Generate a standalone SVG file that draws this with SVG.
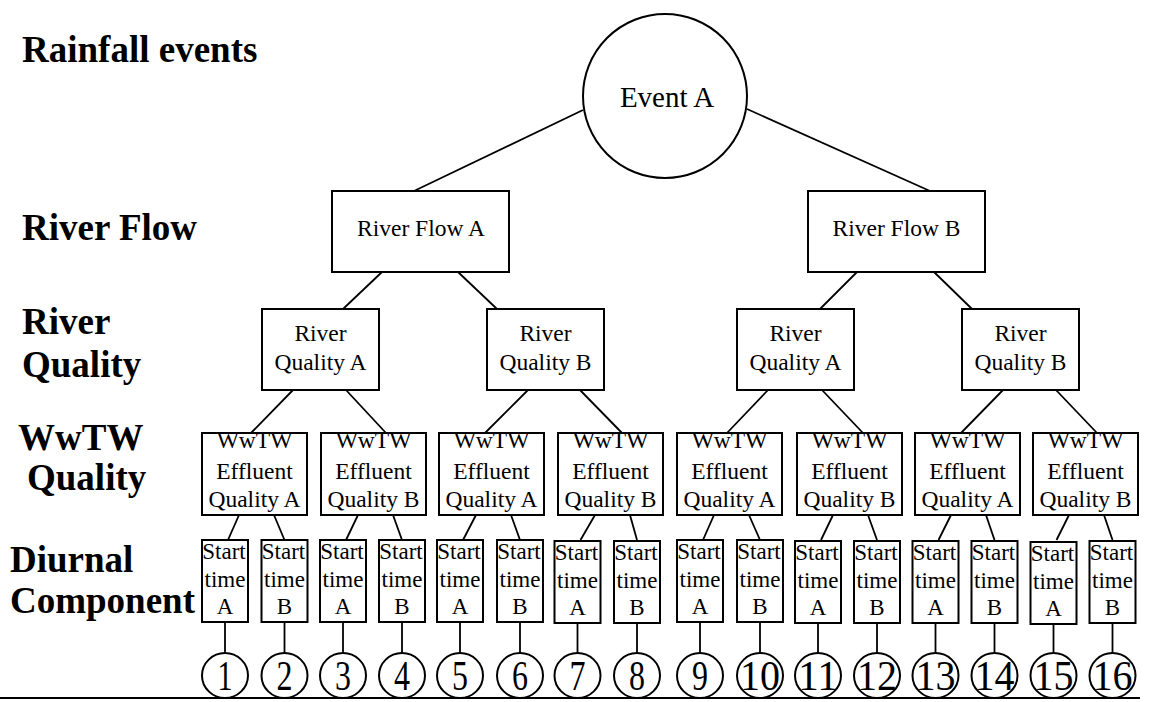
<svg xmlns="http://www.w3.org/2000/svg" width="1149" height="702" viewBox="0 0 1149 702">
<style>
.lbl{font-family:"Liberation Serif","Times New Roman",serif;font-weight:bold;font-size:37px;fill:#000}
.t{font-family:"Liberation Serif","Times New Roman",serif;font-size:23.5px;fill:#000;text-anchor:middle}
.st{font-family:"Liberation Serif","Times New Roman",serif;font-size:23px;fill:#000;text-anchor:middle}
.num{font-family:"Liberation Serif","Times New Roman",serif;font-size:42px;fill:#000;text-anchor:middle}
.box{fill:#fff;stroke:#000;stroke-width:2}
.c{fill:#fff;stroke:#000;stroke-width:2}
#connectors line{stroke:#000;stroke-width:1.8}
</style>
<rect width="1149" height="702" fill="#fff"/>
<g id="labels">
<text class="lbl" x="22" y="62">Rainfall events</text>
<text class="lbl" x="22" y="240">River Flow</text>
<text class="lbl" x="22" y="334">River</text>
<text class="lbl" x="22" y="377">Quality</text>
<text class="lbl" x="18" y="450">WwTW</text>
<text class="lbl" x="27" y="490">Quality</text>
<text class="lbl" x="10" y="572">Diurnal</text>
<text class="lbl" x="10" y="613">Component</text>
</g>
<g id="connectors">
<line x1="583" y1="110" x2="414" y2="191"/>
<line x1="747" y1="109" x2="930" y2="191"/>
<line x1="382" y1="272" x2="343" y2="309"/>
<line x1="458" y1="272" x2="497" y2="309"/>
<line x1="857" y1="272" x2="820" y2="309"/>
<line x1="934" y1="272" x2="972" y2="309"/>
<line x1="293" y1="390" x2="251" y2="433"/>
<line x1="346" y1="390" x2="386" y2="433"/>
<line x1="528" y1="390" x2="485" y2="433"/>
<line x1="580" y1="390" x2="622" y2="433"/>
<line x1="768" y1="390" x2="727" y2="433"/>
<line x1="822" y1="390" x2="863" y2="433"/>
<line x1="1003" y1="390" x2="961" y2="433"/>
<line x1="1056" y1="390" x2="1097" y2="433"/>
<line x1="239" y1="515" x2="228" y2="540"/><line x1="274" y1="515" x2="284.5" y2="540"/>
<line x1="358" y1="515" x2="346" y2="540"/><line x1="393" y1="515" x2="402" y2="540"/>
<line x1="476" y1="515" x2="463" y2="540"/><line x1="511" y1="515" x2="520" y2="540"/>
<line x1="595" y1="515" x2="580.5" y2="540"/><line x1="630" y1="515" x2="637" y2="540"/>
<line x1="714" y1="515" x2="703" y2="540"/><line x1="749" y1="515" x2="760" y2="540"/>
<line x1="833" y1="515" x2="821" y2="540"/><line x1="868" y1="515" x2="877" y2="540"/>
<line x1="951" y1="515" x2="938.5" y2="540"/><line x1="986" y1="515" x2="994.5" y2="540"/>
<line x1="1069" y1="515" x2="1056.5" y2="540"/><line x1="1104" y1="515" x2="1112.5" y2="540"/>
<line x1="225" y1="622" x2="225" y2="653"/>
<line x1="284.5" y1="622" x2="284.5" y2="653"/>
<line x1="343" y1="622" x2="343" y2="653"/>
<line x1="402" y1="622" x2="402" y2="653"/>
<line x1="460" y1="622" x2="460" y2="653"/>
<line x1="520" y1="622" x2="520" y2="653"/>
<line x1="577.5" y1="622" x2="577.5" y2="653"/>
<line x1="637" y1="622" x2="637" y2="653"/>
<line x1="700" y1="622" x2="700" y2="653"/>
<line x1="760" y1="622" x2="760" y2="653"/>
<line x1="818" y1="622" x2="818" y2="653"/>
<line x1="877" y1="622" x2="877" y2="653"/>
<line x1="935.5" y1="622" x2="935.5" y2="653"/>
<line x1="994.5" y1="622" x2="994.5" y2="653"/>
<line x1="1053.5" y1="622" x2="1053.5" y2="653"/>
<line x1="1112.5" y1="622" x2="1112.5" y2="653"/>
<line x1="0" y1="698" x2="1140" y2="698"/>
</g>
<g id="event-a"><circle class="c" cx="665" cy="96" r="82"/><text class="t" style="font-size:29px" x="667" y="107">Event A</text></g>
<g id="river-flow-a"><rect class="box" x="332" y="191" width="177" height="81"/><text class="t" x="421" y="236">River Flow A</text></g>
<g id="river-flow-b"><rect class="box" x="808" y="191" width="177" height="81"/><text class="t" x="896.5" y="236">River Flow B</text></g>
<g id="rq-1"><rect class="box" x="262" y="309" width="117" height="81"/><text class="t" x="320.5" y="341">River</text><text class="t" x="320.5" y="370">Quality A</text></g>
<g id="rq-2"><rect class="box" x="487" y="309" width="117" height="81"/><text class="t" x="545.5" y="341">River</text><text class="t" x="545.5" y="370">Quality B</text></g>
<g id="rq-3"><rect class="box" x="737" y="309" width="117" height="81"/><text class="t" x="795.5" y="341">River</text><text class="t" x="795.5" y="370">Quality A</text></g>
<g id="rq-4"><rect class="box" x="962" y="309" width="117" height="81"/><text class="t" x="1020.5" y="341">River</text><text class="t" x="1020.5" y="370">Quality B</text></g>
<g id="ww-1"><rect class="box" x="202" y="433" width="105" height="82"/><text class="t" x="254.5" y="448">WwTW</text><text class="t" x="254.5" y="479">Effluent</text><text class="t" x="254.5" y="507">Quality A</text></g>
<g id="ww-2"><rect class="box" x="321" y="433" width="105" height="82"/><text class="t" x="373.5" y="448">WwTW</text><text class="t" x="373.5" y="479">Effluent</text><text class="t" x="373.5" y="507">Quality B</text></g>
<g id="ww-3"><rect class="box" x="439" y="433" width="105" height="82"/><text class="t" x="491.5" y="448">WwTW</text><text class="t" x="491.5" y="479">Effluent</text><text class="t" x="491.5" y="507">Quality A</text></g>
<g id="ww-4"><rect class="box" x="558" y="433" width="105" height="82"/><text class="t" x="610.5" y="448">WwTW</text><text class="t" x="610.5" y="479">Effluent</text><text class="t" x="610.5" y="507">Quality B</text></g>
<g id="ww-5"><rect class="box" x="677" y="433" width="105" height="82"/><text class="t" x="729.5" y="448">WwTW</text><text class="t" x="729.5" y="479">Effluent</text><text class="t" x="729.5" y="507">Quality A</text></g>
<g id="ww-6"><rect class="box" x="797" y="433" width="105" height="82"/><text class="t" x="849.5" y="448">WwTW</text><text class="t" x="849.5" y="479">Effluent</text><text class="t" x="849.5" y="507">Quality B</text></g>
<g id="ww-7"><rect class="box" x="915" y="433" width="105" height="82"/><text class="t" x="967.5" y="448">WwTW</text><text class="t" x="967.5" y="479">Effluent</text><text class="t" x="967.5" y="507">Quality A</text></g>
<g id="ww-8"><rect class="box" x="1033" y="433" width="105" height="82"/><text class="t" x="1085.5" y="448">WwTW</text><text class="t" x="1085.5" y="479">Effluent</text><text class="t" x="1085.5" y="507">Quality B</text></g>
<g id="st-1"><rect class="box" x="202" y="540" width="46" height="82"/><text class="st" x="224" y="559">Start</text><text class="st" x="225" y="587">time</text><text class="st" x="225" y="614">A</text></g>
<g id="st-2"><rect class="box" x="261.5" y="540" width="46" height="82"/><text class="st" x="283.5" y="559">Start</text><text class="st" x="284.5" y="587">time</text><text class="st" x="284.5" y="614">B</text></g>
<g id="st-3"><rect class="box" x="320" y="540" width="46" height="82"/><text class="st" x="342" y="559">Start</text><text class="st" x="343" y="587">time</text><text class="st" x="343" y="614">A</text></g>
<g id="st-4"><rect class="box" x="379" y="540" width="46" height="82"/><text class="st" x="401" y="559">Start</text><text class="st" x="402" y="587">time</text><text class="st" x="402" y="614">B</text></g>
<g id="st-5"><rect class="box" x="437" y="540" width="46" height="82"/><text class="st" x="459" y="559">Start</text><text class="st" x="460" y="587">time</text><text class="st" x="460" y="614">A</text></g>
<g id="st-6"><rect class="box" x="497" y="540" width="46" height="82"/><text class="st" x="519" y="559">Start</text><text class="st" x="520" y="587">time</text><text class="st" x="520" y="614">B</text></g>
<g id="st-7"><rect class="box" x="554.5" y="541" width="46" height="82"/><text class="st" x="576.5" y="560">Start</text><text class="st" x="577.5" y="588">time</text><text class="st" x="577.5" y="615">A</text></g>
<g id="st-8"><rect class="box" x="614" y="541" width="46" height="82"/><text class="st" x="636" y="560">Start</text><text class="st" x="637" y="588">time</text><text class="st" x="637" y="615">B</text></g>
<g id="st-9"><rect class="box" x="677" y="540" width="46" height="82"/><text class="st" x="699" y="559">Start</text><text class="st" x="700" y="587">time</text><text class="st" x="700" y="614">A</text></g>
<g id="st-10"><rect class="box" x="737" y="540" width="46" height="82"/><text class="st" x="759" y="559">Start</text><text class="st" x="760" y="587">time</text><text class="st" x="760" y="614">B</text></g>
<g id="st-11"><rect class="box" x="795" y="541" width="46" height="82"/><text class="st" x="817" y="560">Start</text><text class="st" x="818" y="588">time</text><text class="st" x="818" y="615">A</text></g>
<g id="st-12"><rect class="box" x="854" y="541" width="46" height="82"/><text class="st" x="876" y="560">Start</text><text class="st" x="877" y="588">time</text><text class="st" x="877" y="615">B</text></g>
<g id="st-13"><rect class="box" x="912.5" y="541" width="46" height="82"/><text class="st" x="934.5" y="560">Start</text><text class="st" x="935.5" y="588">time</text><text class="st" x="935.5" y="615">A</text></g>
<g id="st-14"><rect class="box" x="971.5" y="541" width="46" height="82"/><text class="st" x="993.5" y="560">Start</text><text class="st" x="994.5" y="588">time</text><text class="st" x="994.5" y="615">B</text></g>
<g id="st-15"><rect class="box" x="1030.5" y="542" width="46" height="82"/><text class="st" x="1052.5" y="561">Start</text><text class="st" x="1053.5" y="589">time</text><text class="st" x="1053.5" y="616">A</text></g>
<g id="st-16"><rect class="box" x="1089.5" y="541" width="46" height="82"/><text class="st" x="1111.5" y="560">Start</text><text class="st" x="1112.5" y="588">time</text><text class="st" x="1112.5" y="615">B</text></g>
<g id="end-1"><ellipse class="c" cx="225" cy="675.5" rx="23" ry="22.5"/><text class="num" x="225" y="690" textLength="15" lengthAdjust="spacingAndGlyphs">1</text></g>
<g id="end-2"><ellipse class="c" cx="284.5" cy="675.5" rx="23" ry="22.5"/><text class="num" x="284.5" y="690" textLength="16" lengthAdjust="spacingAndGlyphs">2</text></g>
<g id="end-3"><ellipse class="c" cx="343" cy="675.5" rx="23" ry="22.5"/><text class="num" x="343" y="690" textLength="16" lengthAdjust="spacingAndGlyphs">3</text></g>
<g id="end-4"><ellipse class="c" cx="402" cy="675.5" rx="23" ry="22.5"/><text class="num" x="402" y="690" textLength="16" lengthAdjust="spacingAndGlyphs">4</text></g>
<g id="end-5"><ellipse class="c" cx="460" cy="675.5" rx="23" ry="22.5"/><text class="num" x="460" y="690" textLength="16" lengthAdjust="spacingAndGlyphs">5</text></g>
<g id="end-6"><ellipse class="c" cx="520" cy="675.5" rx="23" ry="22.5"/><text class="num" x="520" y="690" textLength="16" lengthAdjust="spacingAndGlyphs">6</text></g>
<g id="end-7"><ellipse class="c" cx="577.5" cy="675.5" rx="23" ry="22.5"/><text class="num" x="577.5" y="690" textLength="16" lengthAdjust="spacingAndGlyphs">7</text></g>
<g id="end-8"><ellipse class="c" cx="637" cy="675.5" rx="23" ry="22.5"/><text class="num" x="637" y="690" textLength="16" lengthAdjust="spacingAndGlyphs">8</text></g>
<g id="end-9"><ellipse class="c" cx="700" cy="675.5" rx="23" ry="22.5"/><text class="num" x="700" y="690" textLength="16" lengthAdjust="spacingAndGlyphs">9</text></g>
<g id="end-10"><ellipse class="c" cx="760" cy="675.5" rx="23" ry="22.5"/><text class="num" x="760" y="690" textLength="40" lengthAdjust="spacingAndGlyphs">10</text></g>
<g id="end-11"><ellipse class="c" cx="818" cy="675.5" rx="23" ry="22.5"/><text class="num" x="818" y="690" textLength="40" lengthAdjust="spacingAndGlyphs">11</text></g>
<g id="end-12"><ellipse class="c" cx="877" cy="675.5" rx="23" ry="22.5"/><text class="num" x="877" y="690" textLength="40" lengthAdjust="spacingAndGlyphs">12</text></g>
<g id="end-13"><ellipse class="c" cx="935.5" cy="675.5" rx="23" ry="22.5"/><text class="num" x="935.5" y="690" textLength="40" lengthAdjust="spacingAndGlyphs">13</text></g>
<g id="end-14"><ellipse class="c" cx="994.5" cy="675.5" rx="23" ry="22.5"/><text class="num" x="994.5" y="690" textLength="40" lengthAdjust="spacingAndGlyphs">14</text></g>
<g id="end-15"><ellipse class="c" cx="1053.5" cy="675.5" rx="23" ry="22.5"/><text class="num" x="1053.5" y="690" textLength="40" lengthAdjust="spacingAndGlyphs">15</text></g>
<g id="end-16"><ellipse class="c" cx="1112.5" cy="675.5" rx="23" ry="22.5"/><text class="num" x="1112.5" y="690" textLength="40" lengthAdjust="spacingAndGlyphs">16</text></g>
</svg>
